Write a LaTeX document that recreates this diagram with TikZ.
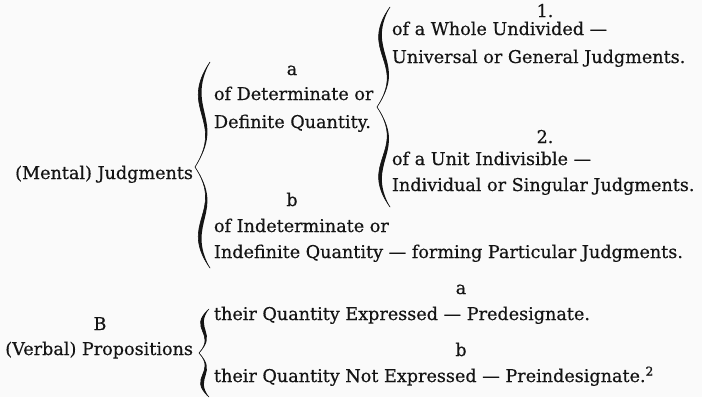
\documentclass[tikz,border=0pt]{standalone}
\usepackage{fontspec}
\setmainfont{DejaVu Serif}[FakeBold=0.5]
\definecolor{ink}{RGB}{20,20,20}
\definecolor{paper}{RGB}{250,250,250}
\newcommand\mybrace[7]{%
  % #1 x of ends, #2 x of tip, #3 top y, #4 tip y, #5 bottom y, #6 left swing, #7 right swing
  \fill[ink] (#1,#3) .. controls ({#1-#6},{#3+0.45*(#4-#3)}) and ({#2+#7},{#4-0.45*(#4-#3)}) .. (#2,#4)
     .. controls ({#2+#7+1.5},{#4-0.45*(#4-#3)}) and ({#1-#6+7},{#3+0.45*(#4-#3)}) .. (#1,#3) -- cycle;
  \fill[ink] (#1,#5) .. controls ({#1-#6},{#5-0.45*(#5-#4)}) and ({#2+#7},{#4+0.45*(#5-#4)}) .. (#2,#4)
     .. controls ({#2+#7+1.5},{#4+0.45*(#5-#4)}) and ({#1-#6+7},{#5-0.45*(#5-#4)}) .. (#1,#5) -- cycle;
  \draw[ink,line width=0.6pt,line cap=round] (#1,#3) .. controls ({#1-#6},{#3+0.45*(#4-#3)}) and ({#2+#7},{#4-0.45*(#4-#3)}) .. (#2,#4)
     .. controls ({#2+#7},{#4+0.45*(#5-#4)}) and ({#1-#6},{#5-0.45*(#5-#4)}) .. (#1,#5);
}
\begin{document}
\begin{tikzpicture}[x=1pt,y=-1pt,
  txt/.style={inner sep=0pt,outer sep=0pt,text=ink,font=\fontsize{17.6}{20}\selectfont}]
\fill[paper] (0,0) rectangle (702,397);
\useasboundingbox (0,0) rectangle (702,397);
% column 1
\node[txt,anchor=base east] (mental) at (193,179) {(Mental) Judgments};
\node[txt,anchor=base] (B) at (100,330) {B};
\node[txt,anchor=base east] (verbal) at (193,355) {(Verbal) Propositions};
% braces
\mybrace{210}{195}{62}{167}{268}{32}{30}
\mybrace{390}{377}{7}{107}{207}{32}{30}
\mybrace{209}{199}{309}{353}{397}{22}{18}
% column 2
\node[txt,anchor=base] (la) at (292,75) {a};
\node[txt,anchor=base west] (det1) at (214,100) {of Determinate or};
\node[txt,anchor=base west] (det2) at (214,128) {Definite Quantity.};
\node[txt,anchor=base] (lb) at (292,206) {b};
\node[txt,anchor=base west] (ind1) at (214,232) {of Indeterminate or};
\node[txt,anchor=base west] (ind2) at (214,258) {Indefinite Quantity — forming Particular Judgments.};
% column 3
\node[txt,anchor=base] (n1) at (545,17) {1.};
\node[txt,anchor=base west] (wh1) at (392,35) {of a Whole Undivided —};
\node[txt,anchor=base west] (wh2) at (392,63) {Universal or General Judgments.};
\node[txt,anchor=base] (n2) at (545,143) {2.};
\node[txt,anchor=base west] (un1) at (392,165) {of a Unit Indivisible —};
\node[txt,anchor=base west] (un2) at (392,191) {Individual or Singular Judgments.};
% propositions
\node[txt,anchor=base] (pa) at (461,294) {a};
\node[txt,anchor=base west] (pre) at (214,320) {their Quantity Expressed — Predesignate.};
\node[txt,anchor=base] (pb) at (461,356) {b};
\node[txt,anchor=base west] (prei) at (214,382) {their Quantity Not Expressed — Preindesignate.\textsuperscript{2}};
\end{tikzpicture}
\end{document}
